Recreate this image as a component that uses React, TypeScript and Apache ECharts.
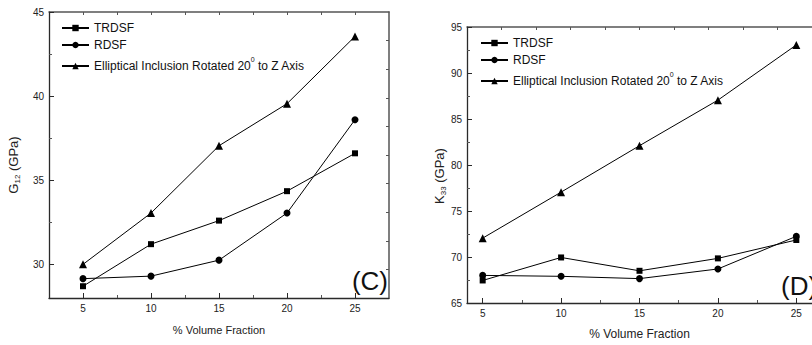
import React, { useEffect, useRef } from 'react';
import * as echarts from 'echarts';

// ---- data ----
const volumeFraction = [5, 10, 15, 20, 25];
const seriesNames = ['TRDSF', 'RDSF', 'Elliptical Inclusion Rotated 20^0 to Z Axis'];
const g12TRDSF = [28.7, 31.2, 32.6, 34.35, 36.6];
const g12RDSF = [29.15, 29.3, 30.25, 33.05, 38.6];
const g12Elliptical = [30.0, 33.05, 37.05, 39.55, 43.55];
const k33TRDSF = [67.45, 69.95, 68.5, 69.85, 71.85];
const k33RDSF = [68.0, 67.9, 67.65, 68.7, 72.25];
const k33Elliptical = [72.05, 77.05, 82.1, 87.05, 93.05];

// ---- tick values ----
const xMajorTicks = [5, 10, 15, 20, 25];
const xMinorTicks = [7.5, 12.5, 17.5, 22.5];
const cTopTicks = [5, 7.5, 10, 12.5, 15, 17.5, 20, 22.5, 25];
const dTopTicks = [6.2, 8.4, 10.6, 12.8, 15, 17.2, 19.4, 21.6, 23.8];
const g12MajorTicks = [30, 35, 40, 45];
const g12MinorTicks = [32.5, 37.5, 42.5];
const g12RightTicks = [29.7, 31.4, 33.1, 34.8, 36.5, 38.2, 39.9, 41.6, 43.3];
const k33MajorTicks = [65, 70, 75, 80, 85, 90, 95];
const k33MinorTicks = [67.5, 72.5, 77.5, 82.5, 87.5, 92.5];

const FONT = '"Liberation Sans", Arial, sans-serif';
const AX = '#2a2a2a';
const symbols = ['rect', 'circle', 'triangle'];
const symbolSizes = [6, 7, 8];

function pairs(vals: number[]) {
  return volumeFraction.map((x, i) => [x, vals[i]]);
}

function legendFormatter(name: string) {
  if (name === seriesNames[2]) {
    return '{u|Elliptical Inclusion Rotated 20}{s|0}{u| to Z Axis}';
  }
  return '{t|' + name + '}';
}

const legendRich = {
  t: { fontSize: 12, fontFamily: FONT, color: '#111', lineHeight: 14 },
  u: { fontSize: 12, fontFamily: FONT, color: '#111', lineHeight: 20 },
  s: { fontSize: 7, fontFamily: FONT, color: '#111', verticalAlign: 'top', lineHeight: 11 },
};

function mainX(grid: number, min: number, max: number, nameGap: number, nameSize: number) {
  return {
    type: 'value', gridIndex: grid, position: 'bottom', min, max,
    axisLine: { show: true, lineStyle: { color: AX, width: 1.3 } },
    axisTick: { show: true, inside: true, length: 5, customValues: xMajorTicks, lineStyle: { color: AX } },
    axisLabel: { show: true, customValues: xMajorTicks, fontSize: 10, fontFamily: FONT, color: '#222', margin: 5 },
    splitLine: { show: false },
    name: '% Volume Fraction', nameLocation: 'middle', nameGap,
    nameTextStyle: { fontSize: nameSize, fontFamily: FONT, color: '#222' },
  };
}
function tickAxisX(grid: number, min: number, max: number, pos: string, ticks: number[], showLine: boolean) {
  return {
    type: 'value', gridIndex: grid, position: pos, min, max,
    axisLine: { show: showLine, lineStyle: { color: '#555', width: 1.5 } },
    axisTick: { show: true, inside: true, length: 3, customValues: ticks, lineStyle: { color: '#555' } },
    axisLabel: { show: false },
    splitLine: { show: false },
  };
}
function mainY(grid: number, min: number, max: number, ticks: number[]) {
  return {
    type: 'value', gridIndex: grid, position: 'left', min, max,
    axisLine: { show: true, lineStyle: { color: AX, width: 1.3 } },
    axisTick: { show: true, inside: true, length: 5, customValues: ticks, lineStyle: { color: AX } },
    axisLabel: { show: true, customValues: ticks, fontSize: 10, fontFamily: FONT, color: '#222', margin: 5 },
    splitLine: { show: false },
  };
}
function tickAxisY(grid: number, min: number, max: number, pos: string, ticks: number[], showLine: boolean) {
  return {
    type: 'value', gridIndex: grid, position: pos, min, max,
    axisLine: { show: showLine, lineStyle: { color: '#555', width: 1.5 } },
    axisTick: { show: true, inside: true, length: 3, customValues: ticks, lineStyle: { color: '#555' } },
    axisLabel: { show: false },
    splitLine: { show: false },
  };
}

function makeSeries(data: number[][], idx: number, xi: number, yi: number) {
  return {
    type: 'line', name: seriesNames[idx], data, xAxisIndex: xi, yAxisIndex: yi,
    symbol: symbols[idx], symbolSize: symbolSizes[idx], showAllSymbol: true,
    lineStyle: { color: '#000', width: 1 },
    itemStyle: { color: '#000' },
    emphasis: { disabled: true },
  };
}

function yName(main: string, sub: string, x: number, y: number) {
  return {
    type: 'text', x, y, rotation: Math.PI / 2,
    style: {
      text: '{m|' + main + '}{b|' + sub + '}{m| (GPa)}', align: 'center', verticalAlign: 'middle',
      rich: {
        m: { fontSize: 13, fontFamily: FONT, fill: '#222', lineHeight: 16 },
        b: { fontSize: 8, fontFamily: FONT, fill: '#222', verticalAlign: 'bottom', lineHeight: 9 },
      },
    },
  };
}

export default function App() {
  const ref = useRef<HTMLDivElement>(null);
  useEffect(() => {
    document.body.style.margin = '0';
    if (!ref.current) return;
    const chart = echarts.init(ref.current, null, { renderer: 'svg' });
    const option: any = {
      animation: false,
      backgroundColor: '#fff',
      grid: [
        { left: 49, top: 12, width: 340, height: 286 },
        { left: 467, top: 27, width: 350, height: 277 },
      ],
      xAxis: [
        mainX(0, 2.5, 27.5, 26, 11),
        tickAxisX(0, 2.5, 27.5, 'bottom', xMinorTicks, false),
        tickAxisX(0, 2.5, 27.5, 'top', cTopTicks, true),
        mainX(1, 4, 26, 25, 12),
        tickAxisX(1, 4, 26, 'bottom', xMinorTicks, false),
        tickAxisX(1, 4, 26, 'top', dTopTicks, true),
      ],
      yAxis: [
        mainY(0, 28, 45, g12MajorTicks),
        tickAxisY(0, 28, 45, 'left', g12MinorTicks, false),
        tickAxisY(0, 28, 45, 'right', g12RightTicks, true),
        mainY(1, 65, 95, k33MajorTicks),
        tickAxisY(1, 65, 95, 'left', k33MinorTicks, false),
      ],
      legend: [
        {
          data: seriesNames, left: 61, top: 22, orient: 'vertical', itemWidth: 27, itemHeight: 8, itemGap: 5,
          formatter: legendFormatter, textStyle: { rich: legendRich }, selectedMode: false, padding: 0,
        },
        {
          data: seriesNames, left: 480, top: 37, orient: 'vertical', itemWidth: 27, itemHeight: 8, itemGap: 5,
          formatter: legendFormatter, textStyle: { rich: legendRich }, selectedMode: false, padding: 0,
        },
      ],
      graphic: [
        yName('G', '12', 13, 165),
        yName('K', '33', 439, 176),
        {
          type: 'text', x: 388, y: 281,
          style: { text: '(C)', fontSize: 26, fontFamily: FONT, fill: '#111', align: 'right', verticalAlign: 'middle' },
        },
        {
          type: 'text', x: 781, y: 286,
          style: { text: '(D)', fontSize: 26, fontFamily: FONT, fill: '#111', align: 'left', verticalAlign: 'middle' },
        },
      ],
      series: [
        makeSeries(pairs(g12TRDSF), 0, 0, 0),
        makeSeries(pairs(g12RDSF), 1, 0, 0),
        makeSeries(pairs(g12Elliptical), 2, 0, 0),
        makeSeries(pairs(k33TRDSF), 0, 3, 3),
        makeSeries(pairs(k33RDSF), 1, 3, 3),
        makeSeries(pairs(k33Elliptical), 2, 3, 3),
      ],
    };
    chart.setOption(option);
    return () => chart.dispose();
  }, []);
  return <div ref={ref} style={{ width: 812, height: 345 }} />;
}
